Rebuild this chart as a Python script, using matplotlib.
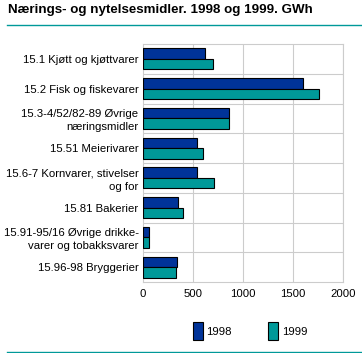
import matplotlib
matplotlib.use("Agg")
import matplotlib.pyplot as plt
from matplotlib.patches import Patch
import numpy as np

plt.rcParams['font.family'] = ['Liberation Sans', 'DejaVu Sans']

categories = [
    "15.1 Kjøtt og kjøttvarer",
    "15.2 Fisk og fiskevarer",
    "15.3-4/52/82-89 Øvrige\nnæringsmidler",
    "15.51 Meierivarer",
    "15.6-7 Kornvarer, stivelser\nog for",
    "15.81 Bakerier",
    "15.91-95/16 Øvrige drikke-\nvarer og tobakksvarer",
    "15.96-98 Bryggerier",
]
values_1998 = [627, 1598, 866, 547, 547, 348, 60, 338]
values_1999 = [697, 1757, 866, 607, 716, 398, 60, 328]
xticks = [0, 500, 1000, 1500, 2000]

blue = "#003399"
teal = "#009999"

fig = plt.figure(figsize=(3.62, 3.53), dpi=100)
ax = fig.add_axes([142.7 / 362, 1 - 282 / 353, 200.3 / 362, 238 / 353])

y = np.arange(len(categories))
h = 0.35
ax.barh(y - h / 2, values_1998, height=h, color=blue, edgecolor="black", linewidth=0.8, zorder=3)
ax.barh(y + h / 2, values_1999, height=h, color=teal, edgecolor="black", linewidth=0.8, zorder=3)

ax.set_xlim(0, 2000)
ax.set_ylim(len(categories) - 0.5, -0.5)
ax.set_xticks(xticks)
ax.set_xticklabels([str(t) for t in xticks], fontsize=8.2)
ax.set_yticks(y)
ax.set_yticklabels(categories, fontsize=8.2, linespacing=1.35)
ax.tick_params(length=0, pad=3)
ax.tick_params(axis="x", pad=5)

# grid: vertical at ticks, horizontal between categories
for t in xticks[1:]:
    ax.axvline(t, color="#cccccc", linewidth=0.8, zorder=1)
for b in np.arange(0.5, len(categories) - 1, 1.0):
    ax.axhline(b, color="#cccccc", linewidth=0.8, zorder=1)
for s in ax.spines.values():
    s.set_color("#cccccc")
    s.set_linewidth(0.8)

fig.text(8 / 362, 1 - 10 / 353, "Nærings- og nytelsesmidler. 1998 og 1999. GWh",
         fontsize=9.6, fontweight="bold", va="center", ha="left")
fig.add_artist(plt.Line2D([7 / 362, 1], [1 - 25 / 353] * 2, color=teal, linewidth=1))
fig.add_artist(plt.Line2D([7 / 362, 1], [1 - 352 / 353] * 2, color=teal, linewidth=1))

handles = [Patch(facecolor=blue, edgecolor="black", linewidth=0.8, label="1998"),
           Patch(facecolor=teal, edgecolor="black", linewidth=0.8, label="1999")]
fig.legend(handles=handles, loc="center", bbox_to_anchor=(250 / 362, 1 - 331 / 353),
           ncol=2, frameon=False, fontsize=8.2, handlelength=0.9, handleheight=2.0,
           handletextpad=0.3, columnspacing=3.2)

fig.savefig("out.png", dpi=100)
